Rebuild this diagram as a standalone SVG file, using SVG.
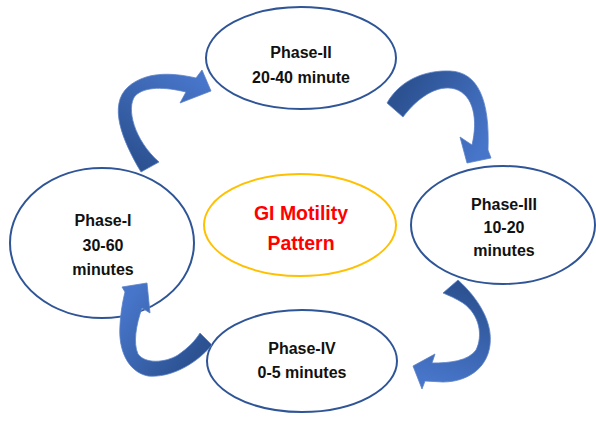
<svg xmlns="http://www.w3.org/2000/svg" width="596" height="426" viewBox="0 0 596 426">
<style>
.bg{fill:#ffffff}
.node{fill:#ffffff;stroke:#2f5597;stroke-width:2}
.center{fill:#ffffff;stroke:#ffc000;stroke-width:2}
.t{font-family:"Liberation Sans",Arial,sans-serif;font-weight:bold;font-size:16px;fill:#111111;text-anchor:middle}
.tc{font-family:"Liberation Sans",Arial,sans-serif;font-weight:bold;font-size:19.5px;fill:#ff0000;text-anchor:middle}
.arrow{stroke:#5b82c8;stroke-width:0.8;stroke-linejoin:round}
</style>
<defs>
<linearGradient id="g1" gradientUnits="userSpaceOnUse" x1="150" y1="170" x2="205" y2="85"><stop offset="0" stop-color="#2c5292"/><stop offset="1" stop-color="#4775c9"/></linearGradient>
<linearGradient id="g2" gradientUnits="userSpaceOnUse" x1="392" y1="110" x2="475" y2="160"><stop offset="0" stop-color="#2c5292"/><stop offset="1" stop-color="#4775c9"/></linearGradient>
<linearGradient id="g3" gradientUnits="userSpaceOnUse" x1="450" y1="285" x2="418" y2="375"><stop offset="0" stop-color="#2c5292"/><stop offset="1" stop-color="#4775c9"/></linearGradient>
<linearGradient id="g4" gradientUnits="userSpaceOnUse" x1="206" y1="340" x2="135" y2="290"><stop offset="0" stop-color="#2c5292"/><stop offset="1" stop-color="#4775c9"/></linearGradient>
</defs>
<rect class="bg" x="0" y="0" width="596" height="426"/>
<g id="phase-2">
<ellipse class="node" cx="301" cy="58" rx="95" ry="51"/>
<text class="t" x="301" y="58">Phase-II</text>
<text class="t" x="301" y="83">20-40 minute</text>
</g>
<g id="phase-1">
<ellipse class="node" cx="102" cy="243" rx="92" ry="75"/>
<text class="t" x="103" y="226">Phase-I</text>
<text class="t" x="103" y="251">30-60</text>
<text class="t" x="103" y="275">minutes</text>
</g>
<g id="phase-3">
<ellipse class="node" cx="503" cy="225" rx="92" ry="59"/>
<text class="t" x="504" y="210">Phase-III</text>
<text class="t" x="504" y="233">10-20</text>
<text class="t" x="504" y="256">minutes</text>
</g>
<g id="phase-4">
<ellipse class="node" cx="302" cy="361" rx="95" ry="51"/>
<text class="t" x="302" y="354">Phase-IV</text>
<text class="t" x="302" y="378">0-5 minutes</text>
</g>
<g id="gi-motility">
<ellipse class="center" cx="300" cy="225" rx="96" ry="51"/>
<text class="tc" x="301" y="220">GI Motility</text>
<text class="tc" x="301" y="250">Pattern</text>
</g>
<g id="connectors">
<path class="arrow" fill="url(#g1)" d="M141,172 C122,140 108,105 128,87 C145,72 170,72 196,78 L202,70 L211,91 L180,103 L186,92 C165,87 145,86 135,96 C126,108 134,140 159,162 Z"/>
<path class="arrow" fill="url(#g2)" d="M387,103 C400,80 425,70 450,71 C478,72 490,100 488,150 L491,158 L467,163 L460,137 L472,145 C478,120 474,95 455,89 C438,84 418,97 403,117 Z"/>
<path class="arrow" fill="url(#g3)" d="M458,280 C478,298 493,322 490,345 C487,370 465,382 443,382 L425,381 L422,389 L413,366 L435,354 L432,363 C450,363 468,361 476,350 C483,336 480,315 463,303 C455,298 450,296 443,293 Z"/>
<path class="arrow" fill="url(#g4)" d="M212,345 C195,365 170,378 148,376 C128,372 118,350 120,325 C121,310 123,300 125,292 L122,287 L147,283 L150,313 L142,308 C136,325 133,343 138,354 C145,364 165,363 178,355 C188,348 195,341 200,333 Z"/>
</g>
</svg>
